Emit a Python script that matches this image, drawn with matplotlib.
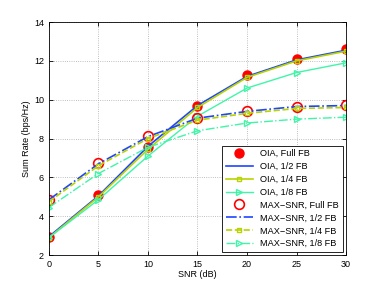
import matplotlib

matplotlib.use("Agg")

import matplotlib.pyplot as plt

plt.rcParams["font.family"] = ["Liberation Sans", "DejaVu Sans"]

snr_db = [0, 5, 10, 15, 20, 25, 30]

oia_full = [2.95, 5.10, 7.55, 9.70, 11.25, 12.10, 12.60]
oia_half = [2.95, 5.05, 7.60, 9.70, 11.20, 12.05, 12.55]
oia_quarter = [2.90, 5.00, 7.45, 9.60, 11.15, 12.00, 12.50]
oia_eighth = [2.90, 4.85, 7.10, 9.15, 10.60, 11.40, 11.90]

max_full = [4.85, 6.75, 8.15, 9.05, 9.40, 9.65, 9.75]
max_half = [4.85, 6.70, 8.10, 9.05, 9.40, 9.65, 9.70]
max_quarter = [4.75, 6.60, 8.00, 8.95, 9.30, 9.55, 9.60]
max_eighth = [4.45, 6.20, 7.55, 8.40, 8.80, 9.00, 9.10]

labels = [
    "OIA, Full FB",
    "OIA, 1/2 FB",
    "OIA, 1/4 FB",
    "OIA, 1/8 FB",
    "MAX\u2212SNR, Full FB",
    "MAX\u2212SNR, 1/2 FB",
    "MAX\u2212SNR, 1/4 FB",
    "MAX\u2212SNR, 1/8 FB",
]

RED = "#ff0000"
BLUE = "#1f45ff"
OLIVE = "#b8d300"
MINT = "#40f5a8"

figure = plt.figure(figsize=(3.82, 2.86), dpi=100)
axis = figure.add_axes([0.128, 0.108, 0.778, 0.815])

axis.plot(snr_db, oia_full, linestyle="none", marker="o", markersize=6.5,
          color=RED, label=labels[0])
axis.plot(snr_db, oia_half, color=BLUE, linewidth=1.2, label=labels[1])
axis.plot(snr_db, oia_quarter, color=OLIVE, linewidth=1.2, marker="s", markersize=3.5,
          markerfacecolor="none", label=labels[2])
axis.plot(snr_db, oia_eighth, color=MINT, linewidth=1.0, marker=">", markersize=4.5,
          markerfacecolor="none", label=labels[3])
axis.plot(snr_db, max_full, linestyle="none", marker="o", markersize=7,
          markerfacecolor="none", markeredgecolor=RED, markeredgewidth=1.2, label=labels[4])
axis.plot(snr_db, max_half, color=BLUE, linewidth=1.2, linestyle="-.", label=labels[5])
axis.plot(snr_db, max_quarter, color=OLIVE, linewidth=1.2, linestyle="--", marker="s",
          markersize=3.5, markerfacecolor="none", label=labels[6])
axis.plot(snr_db, max_eighth, color=MINT, linewidth=1.0, linestyle="-.", marker=">",
          markersize=4.5, markerfacecolor="none", label=labels[7])

axis.set_xlim(0, 30)
axis.set_ylim(2, 14)
axis.set_xticks(range(0, 31, 5))
axis.set_yticks(range(2, 15, 2))
axis.tick_params(direction="in", top=True, right=True, labelsize=6.5, length=3, width=0.6)
axis.grid(True, linestyle=":", linewidth=0.6, color="#aaaaaa")
for spine in axis.spines.values():
    spine.set_linewidth(0.6)
axis.set_xlabel("SNR (dB)", fontsize=6.5, labelpad=1)
axis.set_ylabel("Sum Rate (bps/Hz)", fontsize=6.5, labelpad=2)

legend = axis.legend(loc="lower right", fontsize=6.6, frameon=True, fancybox=False,
                     edgecolor="black", framealpha=1, handlelength=3.0,
                     borderpad=0.4, labelspacing=0.42, borderaxespad=0.35)
legend.get_frame().set_linewidth(0.6)

figure.savefig("out.png", dpi=100)
